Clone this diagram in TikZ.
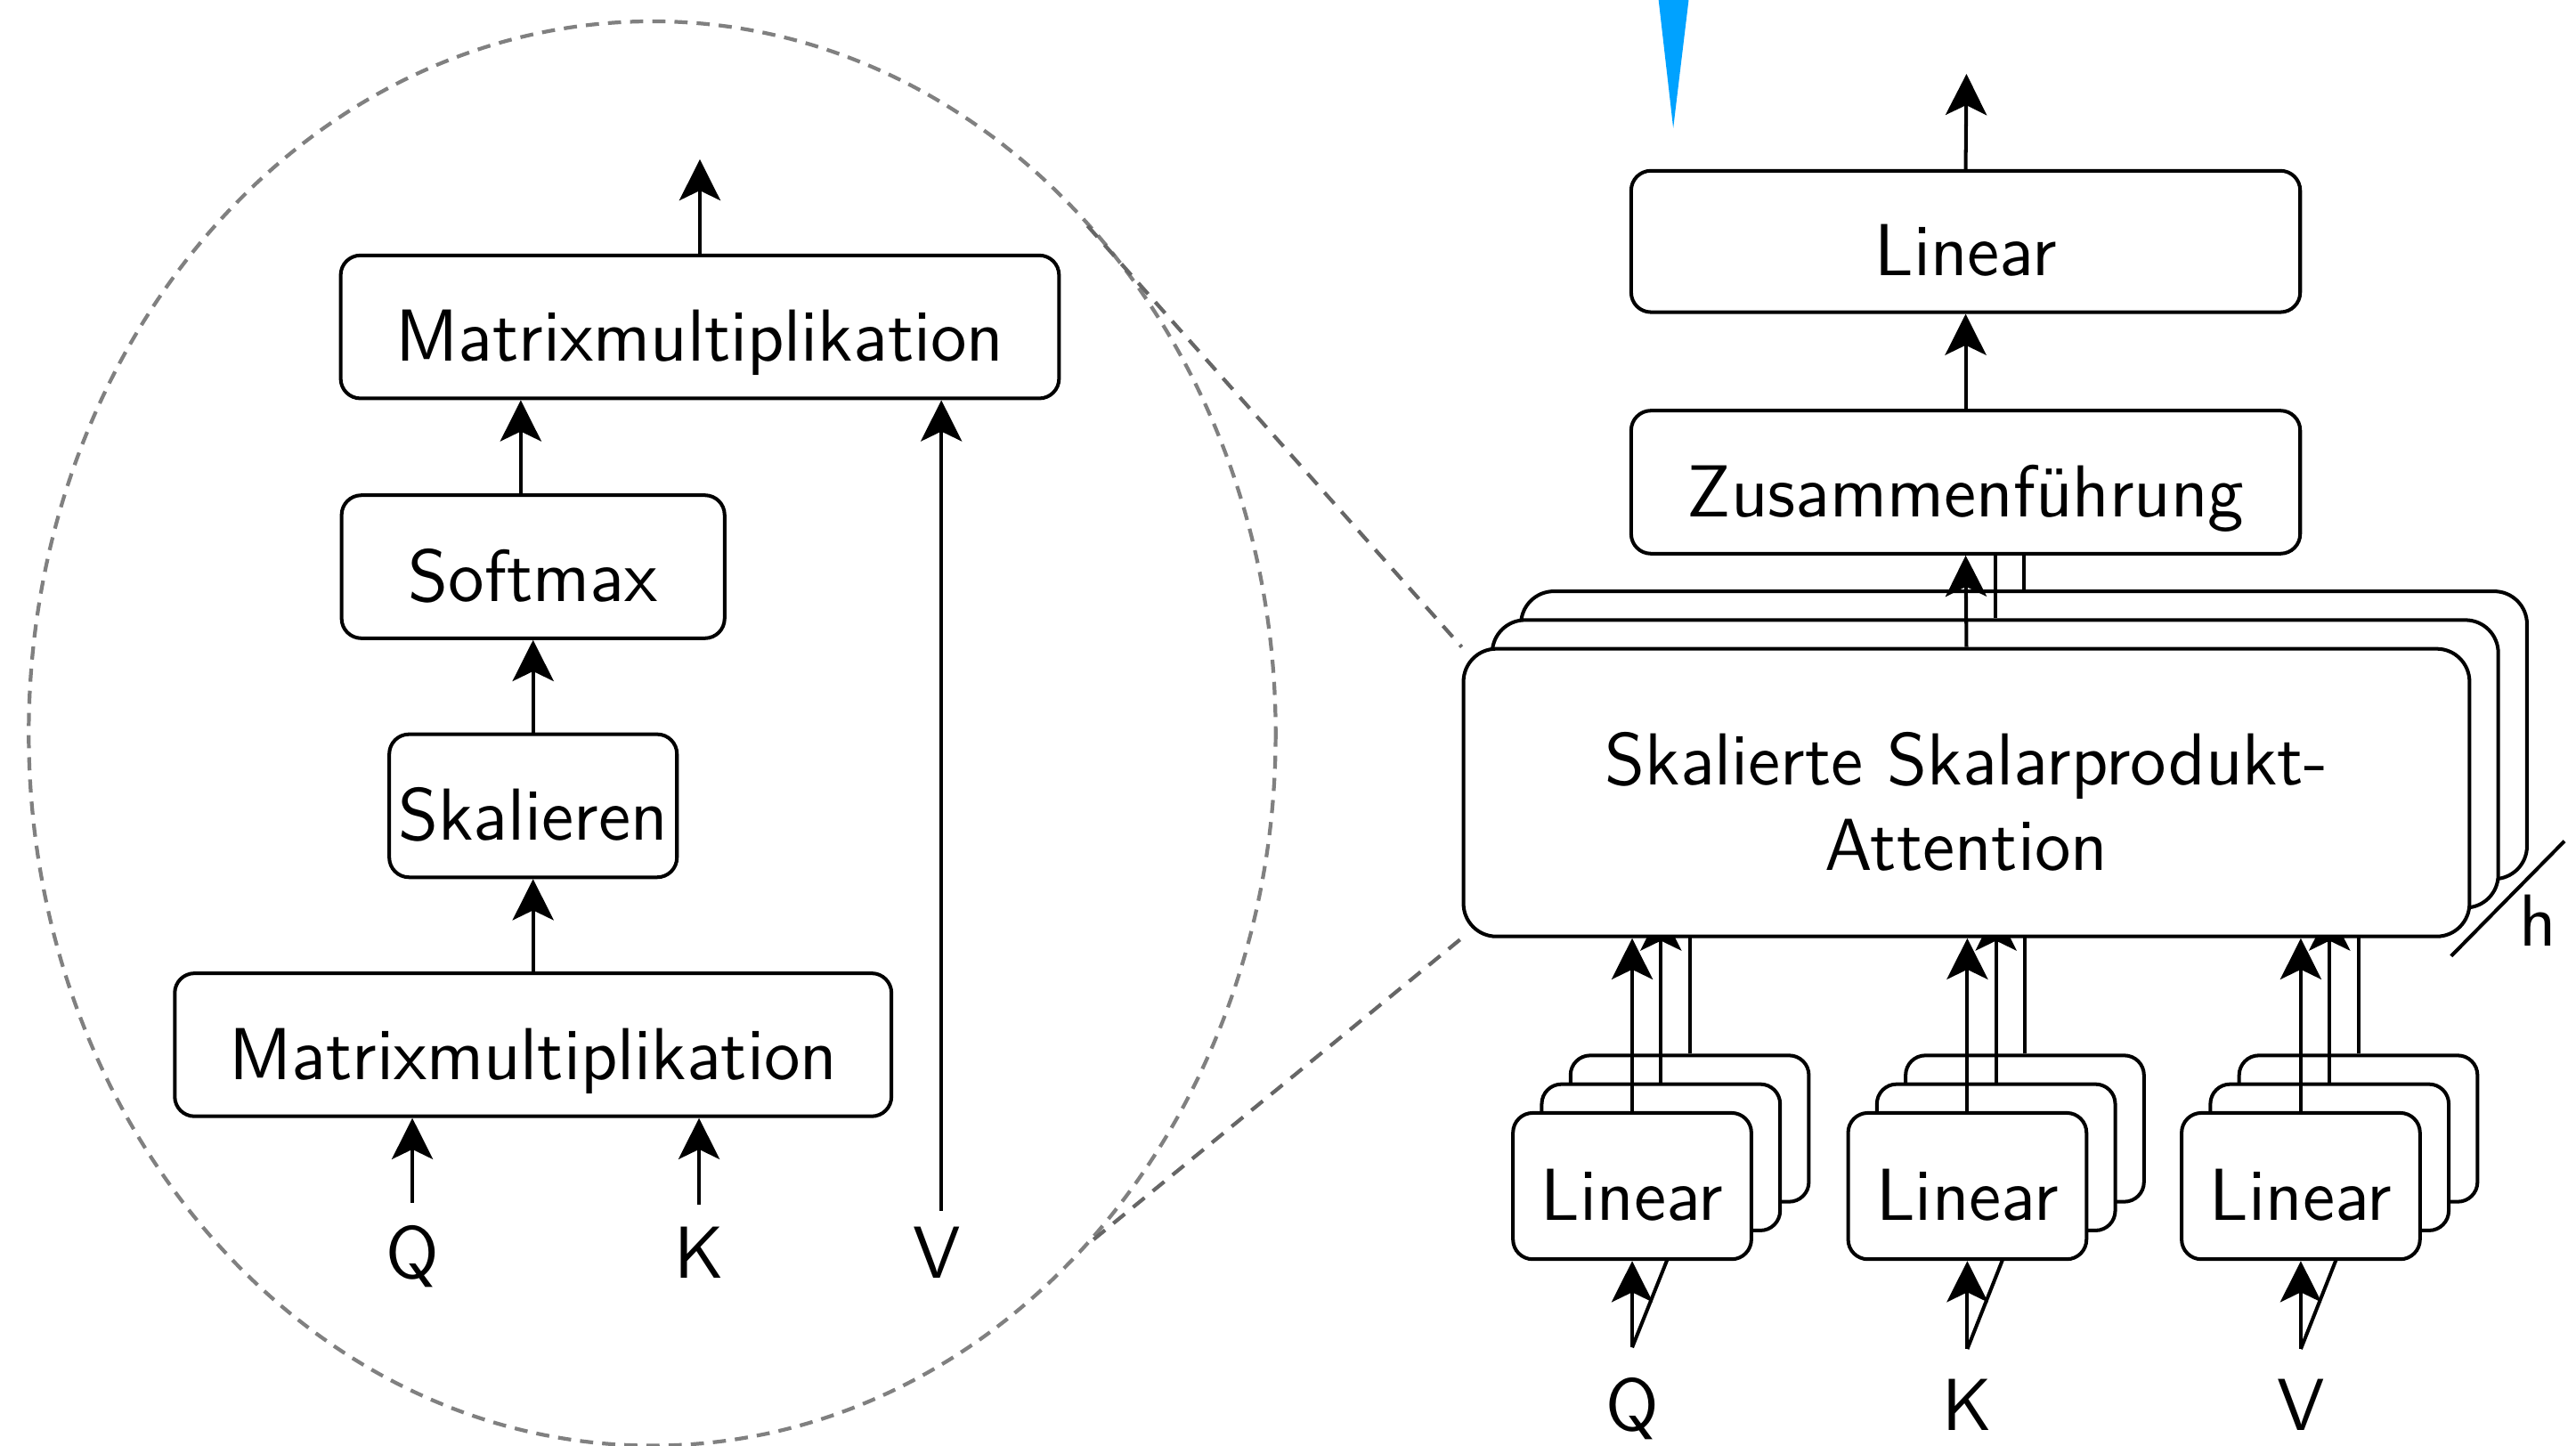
\documentclass[tikz,border=0pt]{standalone}
\usepackage{fontspec}
\usetikzlibrary{arrows.meta,backgrounds}
\definecolor{zoomgray}{RGB}{128,128,128}
\definecolor{linkgray}{RGB}{102,102,102}
\definecolor{cursorblue}{RGB}{0,162,255}
\begin{document}
\begin{tikzpicture}[x=0.01cm,y=-0.01cm,
  every node/.style={font=\sffamily\fontsize{12.75}{14.8}\selectfont},
  box/.style={draw, line width=0.62pt, rounded corners=0.12cm, fill=white, inner sep=0pt, text height=0.42cm, text depth=0pt},
  lbox/.style={box, minimum width=1.45cm, minimum height=0.89cm},
  attbox/.style={draw, line width=0.62pt, rounded corners=0.2cm, fill=white, inner sep=0pt, minimum width=6.12cm, minimum height=1.75cm, text height=0.3cm, text depth=0.39cm},
  arr/.style={line width=0.62pt, -{Stealth[length=0.25cm,width=0.25cm,inset=0.06cm]}},
  ln/.style={line width=0.62pt},
  lblL/.style={inner sep=0.13cm, anchor=base},
  lblR/.style={inner sep=0.18cm, anchor=base},
  ellipsestyle/.style={draw=zoomgray, line width=0.65pt, dash pattern=on 0.08cm off 0.055cm},
  zoomline/.style={draw=linkgray, line width=0.65pt, dash pattern=on 0.09cm off 0.065cm}]
\useasboundingbox (0,0) rectangle (1568,880);

% cursor mark
\fill[cursorblue] (1009,-5) -- (1028.5,-5) -- (1018.5,78) -- cycle;

% ---------- left: scaled dot-product attention ----------
\node[box, minimum width=4.37cm, minimum height=0.87cm] (mmt) at (426,199) {Matrixmultiplikation};
\node[box, minimum width=2.33cm, minimum height=0.87cm] (sm) at (324.5,345) {Softmax};
\node[box, minimum width=1.75cm, minimum height=0.87cm] (sk) at (324.5,490.5) {Skalieren};
\node[box, minimum width=4.36cm, minimum height=0.87cm] (mmb) at (324.5,636) {Matrixmultiplikation};
\coordinate (outL) at (426,97);
\draw[arr] (mmt.north) -- (outL);
\coordinate (smx) at (317,300);
\draw[arr] (smx |- sm.north) -- (smx |- mmt.south);
\draw[arr] (sk.north) -- (sm.south);
\draw[arr] (mmb.north) -- (sk.south);
\node[lblL] (qL) at (251,778) {Q};
\node[lblL] (kL) at (425.5,778) {K};
\node[lblL] (vL) at (570.5,778) {V};
\draw[arr] (qL.north) -- (qL.north |- mmb.south);
\draw[arr] (kL.north) -- (kL.north |- mmb.south);
\coordinate (vin) at (573,737);
\draw[arr] (vin) -- (vin |- mmt.south);

% ---------- right: multi-head attention ----------
\node[box, minimum width=4.07cm, minimum height=0.86cm] (lin) at (1196.5,147) {Linear};
\node[box, minimum width=4.07cm, minimum height=0.87cm] (zus) at (1196.5,293.5) {Zusammenführung};
\coordinate (outR) at (1197,45);
\draw[arr] (lin.north) -- (outR);
\draw[arr] (zus.north) -- (lin.south);

\node[attbox] (att3) at (1232,447.5) {};
\node[attbox] (att2) at (1214.5,465) {};

\foreach \g/\cx in {q/993.5,k/1197.5,v/1400.5}{
  \node[lbox] (\g3) at (\cx+35,687) {};
  \node[lbox] (\g2) at (\cx+17.5,704.5) {};
  \draw[arr] (\g3.north) -- (\g3.north |- att3.south);
  \draw[arr] (\g2.north) -- (\g2.north |- att2.south);
}

\node[attbox] (att) at (1197,482.5) {\begin{tabular}[t]{@{}c@{}}Skalierte Skalarprodukt-\\Attention\end{tabular}};

\draw[arr] (att.north) -- (zus.south);
\draw[ln] (att2.north) -- (att2.north |- zus.south);
\draw[ln] (att3.north) -- (att3.north |- zus.south);

\foreach \g/\cx/\t in {q/993.5/Q,k/1197.5/K,v/1400.5/V}{
  \node[lbox] (\g1) at (\cx,722) {Linear};
  \node[lblR] (in\g) at (\cx,871) {\t};
  \draw[arr] (in\g.north) -- (in\g.north |- \g1.south);
  \draw[arr] (\g1.north) -- (\g1.north |- att.south);
}

% h marker
\node[anchor=base, inner sep=0pt] (hl) at (1545,576) {h};
\coordinate (h1) at (1492,582);
\coordinate (h2) at (1561,512);
\draw[ln] (h1) -- (h2);

% ---------- background: zoom ellipse, connectors, hidden inputs ----------
\begin{pgfonlayer}{background}
  \draw[ellipsestyle] (397,446.5) ellipse [x radius=379.5, y radius=433.5];
  \coordinate (tu) at (662,137.5);
  \coordinate (tl) at (665.7,754.5);
  \draw[zoomline] (tu) -- (att.north west);
  \draw[zoomline] (tl) -- (att.south west);
  \foreach \g in {q,k,v}{
    \draw[arr] (in\g.north) -- (\g3.south);
  }
\end{pgfonlayer}
\end{tikzpicture}
\end{document}
